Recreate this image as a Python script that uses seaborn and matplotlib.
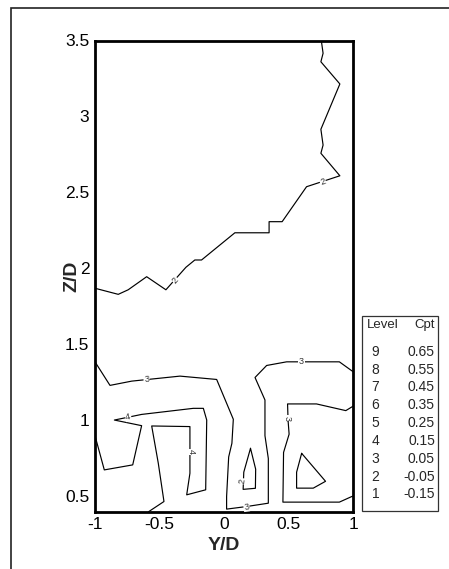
import matplotlib
matplotlib.use("Agg")
import matplotlib.pyplot as plt
import matplotlib.patches as mpatches
from matplotlib.ticker import MultipleLocator
import seaborn as sns
import pandas as pd

# ---------------- data ----------------
# contour level 2, upper line
lev2_upper_x = [-1.0, -0.82, -0.743, -0.60, -0.451, -0.296, -0.227, -0.175, 0.083, 0.348, 0.348,
                0.449, 0.638, 0.896, 0.749, 0.766, 0.749, 0.896, 0.749, 0.766, 0.749]
lev2_upper_y = [1.87, 1.83, 1.86, 1.946, 1.86, 2.008, 2.056, 2.056, 2.235, 2.235, 2.308,
                2.308, 2.538, 2.61, 2.758, 2.812, 2.916, 3.214, 3.36, 3.416, 3.52]
# contour level 3, main line (left edge -> right edge)
lev3_main_x = [-1.0, -0.884, -0.716, -0.342, -0.058, 0.071, 0.060, 0.035, 0.019, 0.019, 0.174,
               0.342, 0.342, 0.316, 0.316, 0.239, 0.329, 0.484, 0.892, 1.0]
lev3_main_y = [1.386, 1.231, 1.259, 1.292, 1.270, 1.008, 0.850, 0.760, 0.500, 0.417, 0.434,
               0.456, 0.750, 0.900, 1.135, 1.283, 1.362, 1.386, 1.386, 1.32]
# contour level 3, right inner line
lev3_right_x = [1.0, 0.942, 0.715, 0.491, 0.495, 0.503, 0.460, 0.455, 0.892, 0.986, 1.0]
lev3_right_y = [1.095, 1.065, 1.109, 1.109, 1.0, 0.910, 0.790, 0.463, 0.463, 0.499, 0.503]
# contour level 4
lev4_x = [-1.0, -0.928, -0.708, -0.639, -0.850, -0.639, -0.239, -0.161, -0.135, -0.143, -0.290,
          -0.265, -0.265, -0.561, -0.510, -0.466, -0.585]
lev4_y = [0.90, 0.675, 0.708, 0.966, 1.003, 1.040, 1.080, 1.080, 1.003, 0.544, 0.511,
          0.653, 0.960, 0.964, 0.719, 0.467, 0.40]
# contour level 2, small closed loop
lev2_loop_x = [0.204, 0.244, 0.242, 0.147, 0.152, 0.204]
lev2_loop_y = [0.817, 0.680, 0.554, 0.547, 0.660, 0.817]
# unlabeled closed loop on the right
loop_r_x = [0.600, 0.785, 0.690, 0.561, 0.561, 0.600]
loop_r_y = [0.784, 0.600, 0.555, 0.555, 0.660, 0.784]

# contour labels
lab_text = ["2", "2", "3", "4", "4", "3", "3", "2", "3"]
lab_x = [-0.380, 0.764, -0.601, -0.743, -0.258, 0.599, 0.491, 0.145, 0.173]
lab_y = [1.924, 2.571, 1.271, 1.025, 0.795, 1.387, 1.014, 0.600, 0.433]
lab_rot = [49, 18, 4, 12, -90, 0, -90, 82, 8]

# legend table
levels = [9, 8, 7, 6, 5, 4, 3, 2, 1]
cpt = ["0.65", "0.55", "0.45", "0.35", "0.25", "0.15", "0.05", "-0.05", "-0.15"]

# ---------------- plotting ----------------
sns.set_style("white")
plt.rcParams["font.family"] = ["Liberation Sans", "DejaVu Sans"]

W, H = 449, 569
fig = plt.figure(figsize=(W / 100, H / 100), dpi=100)
ax = fig.add_axes([95 / W, 1 - 511.7 / H, 258.3 / W, 471.2 / H])

segments = [(lev2_upper_x, lev2_upper_y), (lev3_main_x, lev3_main_y),
            (lev3_right_x, lev3_right_y), (lev4_x, lev4_y),
            (lev2_loop_x, lev2_loop_y), (loop_r_x, loop_r_y)]
for sx, sy in segments:
    df = pd.DataFrame({"Y/D": sx, "Z/D": sy})
    sns.lineplot(data=df, x="Y/D", y="Z/D", sort=False, estimator=None,
                 color="black", lw=0.85, ax=ax, legend=False)

for t, x, y, r in zip(lab_text, lab_x, lab_y, lab_rot):
    ax.text(x, y, t, fontsize=6.5, color="#333333", rotation=r,
            ha="center", va="center", rotation_mode="anchor",
            bbox=dict(fc="white", ec="none", pad=0.4), zorder=5)

ax.set_xlim(-1, 1)
ax.set_ylim(0.4, 3.5)
ax.xaxis.set_major_locator(MultipleLocator(0.5))
ax.xaxis.set_minor_locator(MultipleLocator(0.1))
ax.yaxis.set_major_locator(MultipleLocator(0.5))
ax.yaxis.set_minor_locator(MultipleLocator(0.1))
ax.set_xticks([-1, -0.5, 0, 0.5, 1])
ax.set_xticklabels(["-1", "-0.5", "0", "0.5", "1"])
ax.set_yticks([0.5, 1, 1.5, 2, 2.5, 3, 3.5])
ax.set_yticklabels(["0.5", "1", "1.5", "2", "2.5", "3", "3.5"])
ax.tick_params(which="major", direction="in", length=11, width=2, labelsize=12.5,
               pad=4, top=False, right=False, colors="black")
ax.tick_params(which="minor", direction="in", length=5.5, width=1, top=False, right=False)
for s in ax.spines.values():
    s.set_linewidth(2)
    s.set_color("black")

ax.set_xlabel("Y/D", fontsize=14, fontweight="bold")
ax.set_ylabel("Z/D", fontsize=14, fontweight="bold")
ax.xaxis.set_label_coords(0.5, -0.0707)
ax.xaxis.label.set_va("center")
ax.yaxis.set_label_coords(-0.088, 0.5)
ax.yaxis.label.set_va("center")

# outer frame
fig.patches.append(mpatches.Rectangle((11 / W, -0.2), 1.5, 1.2 - 8.3 / H,
                                      transform=fig.transFigure, fill=False,
                                      ec="#222222", lw=1.2))
# legend box
lx0, lx1 = 361.7 / W, 438.3 / W
ly0, ly1 = 1 - 511 / H, 1 - 316 / H
fig.patches.append(mpatches.Rectangle((lx0, ly0), lx1 - lx0, ly1 - ly0,
                                      transform=fig.transFigure, fill=False,
                                      ec="#333333", lw=0.9))
fig.text(366.7 / W, 1 - 325 / H, "Level", fontsize=9.5, ha="left", va="center",
         family=["Liberation Sans Narrow", "Liberation Sans"])
fig.text(435 / W, 1 - 325 / H, "Cpt", fontsize=9.5, ha="right", va="center",
         family=["Liberation Sans Narrow", "Liberation Sans"])
for i, (lv, c) in enumerate(zip(levels, cpt)):
    yy = 1 - (351.7 + i * 17.83) / H
    fig.text(371.7 / W, yy, str(lv), fontsize=10, ha="left", va="center")
    fig.text(435 / W, yy, c, fontsize=10, ha="right", va="center")

fig.savefig("out.png", dpi=100)
